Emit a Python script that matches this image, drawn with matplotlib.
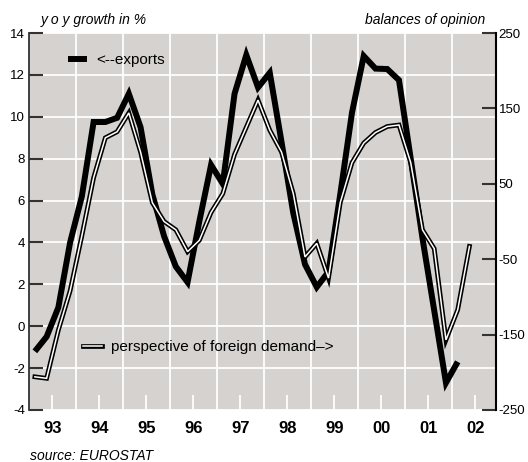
import matplotlib
matplotlib.use("Agg")
import matplotlib.pyplot as plt
import matplotlib.patheffects as pe
import numpy as np

plt.rcParams["font.family"] = ["Liberation Sans", "DejaVu Sans"]
plt.rcParams["axes.unicode_minus"] = False

# quarterly values, first point = 1993 Q1
exports = [-1.2, -0.5, 0.9, 4.0,
           6.2, 9.75, 9.75, 9.95,
           11.1, 9.5, 6.3, 4.3,
           2.85, 2.1, 5.0, 7.7,
           6.8, 11.1, 12.95, 11.4,
           12.1, 8.8, 5.4, 2.95,
           1.87, 2.6, 6.3, 10.2,
           12.9, 12.3, 12.28, 11.75,
           8.0, 4.2, 0.75, -2.7,
           -1.7]
demand = [-206, -208, -144, -92,
          -19, 58, 111, 119,
          144, 92, 25, 0,
          -11, -40, -25, 12,
          37, 89, 125, 161,
          121, 92, 37, -47,
          -29, -75, 25, 78,
          104, 118, 126, 128,
          78, -11, -36, -157,
          -117, -33]

years = list(range(1993, 2003))
year_labels = ["93", "94", "95", "96", "97", "98", "99", "00", "01", "02"]
left_ticks = list(range(-4, 15, 2))
right_ticks = [-250, -150, -50, 50, 150, 250]

t_exp = 1993 + (np.arange(len(exports)) + 0.5) / 4
t_dem = 1993 + (np.arange(len(demand)) + 0.5) / 4

fig = plt.figure(figsize=(5.28, 4.62), dpi=100)
ax = fig.add_axes([29 / 528, 52 / 462, 467 / 528, 377 / 462])
ax.set_facecolor("#d5d2cf")
ax2 = ax.twinx()

ax.set_xlim(1993, 2002.94)
ax.set_ylim(-4, 14)
ax2.set_ylim(-250, 250)

for s in ["top", "bottom", "right"]:
    ax.spines[s].set_visible(False)
for s in ["top", "bottom", "left"]:
    ax2.spines[s].set_visible(False)
ax.spines["left"].set_color("#333333")
ax.spines["left"].set_linewidth(1.3)
ax2.spines["right"].set_color("black")
ax2.spines["right"].set_linewidth(1.5)

# year boundaries carry the grid, mid-year ticks carry the labels
ax.set_xticks(years[1:])
ax.set_xticklabels([])
ax.set_xticks([y + 0.5 for y in years], minor=True)
ax.set_xticklabels(year_labels, minor=True, fontweight="bold", fontsize=12)
ax.tick_params(axis="x", which="major", length=0)
ax.tick_params(axis="x", which="minor", direction="in", length=11,
               width=1.3, color="white", pad=8)

ax.set_yticks(left_ticks)
ax.tick_params(axis="y", direction="in", length=10, width=1.5,
               color="#333333", labelsize=9.5, pad=3)
ax2.set_yticks(right_ticks)
ax2.tick_params(axis="y", direction="in", length=10, width=1.5,
                color="#333333", labelsize=9.5, pad=2)

ax.grid(True, which="major", color="white", lw=1.3)
ax.set_axisbelow(True)

l_exp, = ax.plot(t_exp, exports, color="black", lw=4.3,
                 solid_joinstyle="miter", solid_capstyle="butt")
l_dem, = ax2.plot(t_dem, demand, color="white", lw=1.1,
                  solid_joinstyle="miter",
                  path_effects=[pe.Stroke(linewidth=3.4, foreground="black"),
                                pe.Normal()])

leg1 = ax2.legend([l_exp], ["<--exports"], loc="center left",
                  bbox_to_anchor=(0.0835, 0.928), frameon=False, fontsize=11,
                  handlelength=1.25, handletextpad=0.6, borderpad=0,
                  borderaxespad=0)
ax2.add_artist(leg1)
ax2.legend([l_dem], ["perspective of foreign demand\u2013>"], loc="center left",
           bbox_to_anchor=(0.1156, 0.167), frameon=False, fontsize=11,
           handlelength=1.25, handletextpad=0.6, borderpad=0, borderaxespad=0)

fig.text(41 / 528, 1 - 20 / 462, "y o y growth in %", style="italic",
         fontsize=10, ha="left", va="center")
fig.text(485 / 528, 1 - 20 / 462, "balances of opinion", style="italic",
         fontsize=10, ha="right", va="center")
fig.text(30 / 528, 0.004, "source: EUROSTAT", style="italic",
         fontsize=10, ha="left", va="baseline")

fig.savefig("out.png", dpi=100)
